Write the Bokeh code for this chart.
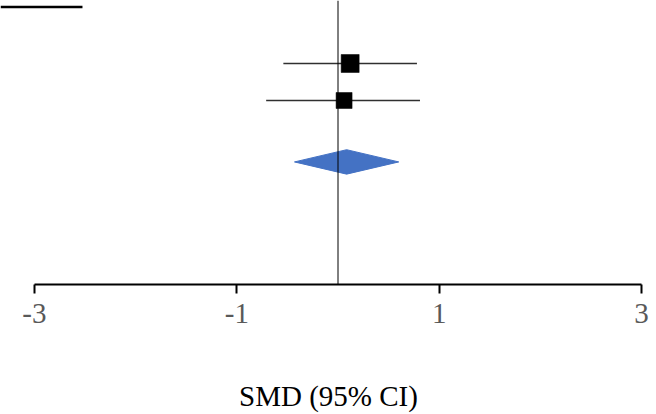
from bokeh.plotting import figure
from bokeh.models import Range1d, FixedTicker, Span, ColumnDataSource
from bokeh.embed import file_html
from bokeh.resources import INLINE

# ---- data ----
studies = ["Study 1", "Study 2"]
smd = [0.12, 0.06]
ci_lower = [-0.54, -0.71]
ci_upper = [0.78, 0.81]
weights = [53, 47]
pooled_smd = 0.085
pooled_lower = -0.43
pooled_upper = 0.60
tick_values = [-3, -1, 1, 3]
tick_labels = ["-3", "-1", "1", "3"]
axis_title = "SMD (95% CI)"

# ---- layout constants ----
rows = [1, 2]
pooled_row = 3.66
diamond_half_h = 0.33
marker_sizes = [18 if w == max(weights) else 16 for w in weights]

p = figure(width=656, height=414, output_backend="svg", toolbar_location=None,
           x_range=Range1d(-3.335, 3.147), y_range=Range1d(6.973, -0.703),
           min_border_left=0, min_border_right=0, min_border_top=0,
           min_border_bottom=130)
p.outline_line_color = None
p.xgrid.visible = False
p.ygrid.visible = False
p.yaxis.visible = False
p.background_fill_color = "white"
p.border_fill_color = "white"

# top-left fragment line
p.segment(x0=[-3.335], y0=[-0.53], x1=[-2.525], y1=[-0.53], line_color="black", line_width=2.5)

# zero line
p.add_layout(Span(location=0, dimension="height", line_color="black", line_width=1))

src = ColumnDataSource(dict(study=studies, smd=smd, lo=ci_lower, hi=ci_upper,
                            row=rows, size=marker_sizes))
p.segment(x0="lo", y0="row", x1="hi", y1="row", source=src, line_color="#303030", line_width=1.3)
p.scatter(x="smd", y="row", size="size", marker="square", source=src,
          fill_color="black", line_color="black", line_width=0.5)

p.patch(x=[pooled_lower, pooled_smd, pooled_upper, pooled_smd],
        y=[pooled_row, pooled_row - diamond_half_h, pooled_row, pooled_row + diamond_half_h],
        fill_color="#4472C4", line_color="#4472C4")

ax = p.xaxis[0]
ax.ticker = FixedTicker(ticks=tick_values)
ax.major_label_overrides = {v: s for v, s in zip(tick_values, tick_labels)}
ax.bounds = (-3, 3)
ax.axis_line_color = "black"
ax.axis_line_width = 2
ax.major_tick_line_color = "black"
ax.major_tick_line_width = 2
ax.major_tick_in = 0
ax.major_tick_out = 9
ax.minor_tick_line_color = None
ax.major_label_text_font = "Liberation Serif"
ax.major_label_text_font_size = "29px"
ax.major_label_text_color = "#595959"
ax.major_label_standoff = 10
ax.axis_label = axis_title
ax.axis_label_text_font = "Liberation Serif"
ax.axis_label_text_font_style = "normal"
ax.axis_label_text_font_size = "29px"
ax.axis_label_text_color = "black"
ax.axis_label_standoff = 54

open("out.html", "w").write(file_html(p, INLINE))
